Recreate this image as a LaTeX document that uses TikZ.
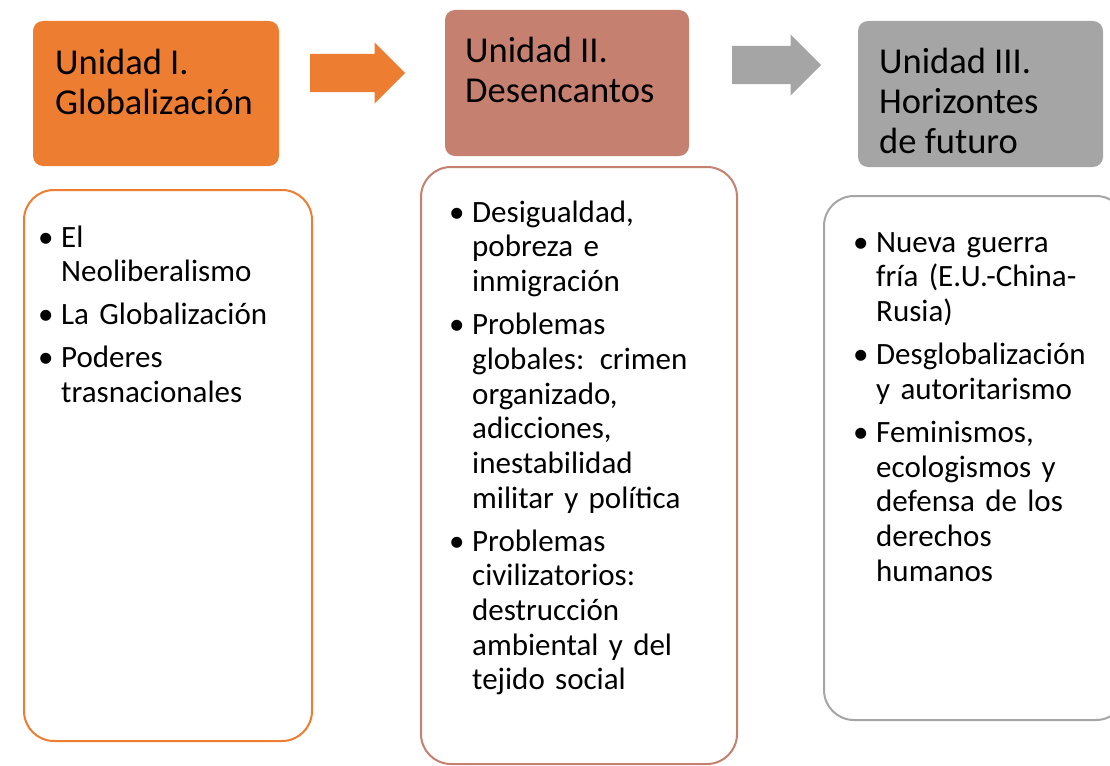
\documentclass[tikz,border=0pt]{standalone}
\usepackage{fontspec}
\setmainfont{Carlito}
\usepackage{tikz}
\usetikzlibrary{shapes.arrows,positioning}
\definecolor{unitI}{RGB}{237,125,49}
\definecolor{unitII}{RGB}{197,128,111}
\definecolor{unitIII}{RGB}{165,165,165}
\newcommand{\bitem}[1]{\par\setlength{\parskip}{8.3pt}\hangindent=23pt\hangafter=1\noindent\makebox[23pt][l]{\textbullet}#1}
\tikzset{
   headbox/.style={rounded corners=10pt, inner sep=0pt},
   headtext/.style={anchor=north west, inner sep=0pt, align=left,
                    font=\fontsize{36.5}{40}\selectfont},
   bodybox/.style={draw, line width=2pt, rounded corners=30pt, fill=white, inner sep=0pt},
   bodytext/.style={anchor=north west, inner sep=0pt, text width=260pt,
                    font=\fontsize{31}{34.7}\selectfont},
   blockarrow/.style={single arrow, anchor=tail, inner sep=0pt, inner ysep=19pt,
                      single arrow head extend=11.5pt, minimum width=61pt}
}
\begin{document}
\begin{tikzpicture}[x=1pt,y=-1pt]
\useasboundingbox (0,0) rectangle (1110,765);

% unit I
\node[headbox, fill=unitI, minimum width=246, minimum height=145] (hdI) at (156,93.5) {};
\node[headtext] (tI) at (55,49) {Unidad I.\\Globalización};
\node[bodybox, draw=unitI, minimum width=288, minimum height=551] (bdI) at (168,465.5) {};
\node[bodytext] (lI) at (38,204) {%
\bitem{El\newline Neoliberalismo}
\bitem{La Globalización}
\bitem{Poderes\newline trasnacionales}\par};

% unit II
\node[headbox, fill=unitII, minimum width=244, minimum height=146] (hdII) at (567,83) {};
\node[headtext] (tII) at (465,37) {Unidad II.\\Desencantos};
\node[bodybox, draw=unitII, minimum width=316, minimum height=597] (bdII) at (579,465.5) {};
\node[bodytext] (lII) at (449,179) {%
\bitem{Desigualdad,\newline pobreza e\newline inmigración}
\bitem{Problemas\newline globales: crimen\newline organizado,\newline adicciones,\newline inestabilidad\newline militar y política}
\bitem{Problemas\newline civilizatorios:\newline destrucción\newline ambiental y del\newline tejido social}\par};

% unit III
\node[headbox, fill=unitIII, minimum width=245, minimum height=146] (hdIII) at (980.5,94) {};
\node[headtext] (tIII) at (879,48) {Unidad III.\\Horizontes\\de futuro};
\node[bodybox, draw=unitIII, minimum width=302, minimum height=524] (bdIII) at (975,458) {};
\node[bodytext] (lIII) at (853,209) {%
\bitem{Nueva guerra\newline fría (E.U.-China-\newline Rusia)}
\bitem{Desglobalización\newline y autoritarismo}
\bitem{Feminismos,\newline ecologismos y\newline defensa de los\newline derechos\newline humanos}\par};

% arrows
\node[blockarrow, fill=unitI, minimum height=95] (arrI) at (310,73) {};
\node[blockarrow, fill=unitIII, minimum height=89] (arrII) at (732,65) {};

\end{tikzpicture}
\end{document}
